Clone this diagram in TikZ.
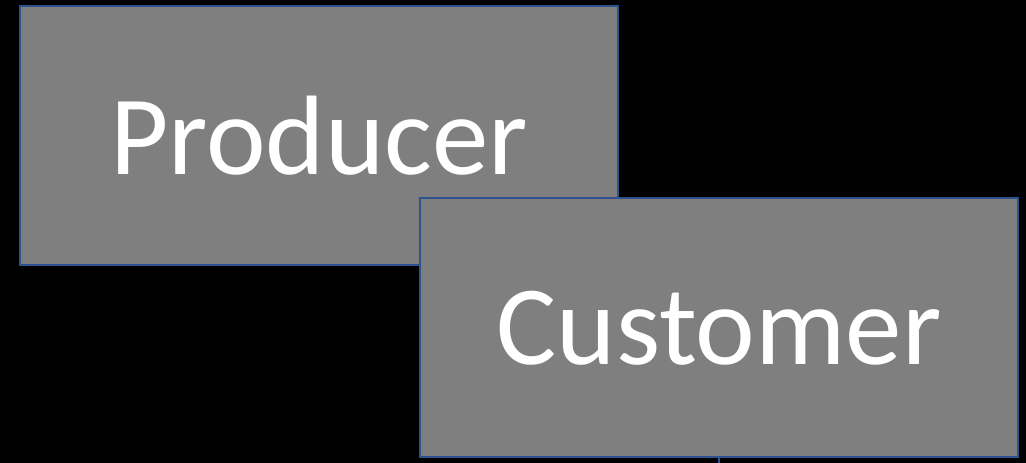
\documentclass[tikz,border=0pt]{standalone}
\usepackage{fontspec}
\setmainfont{Carlito}
\definecolor{boxfill}{HTML}{7F7F7F}
\definecolor{boxline}{HTML}{2F528F}
\begin{document}
\begin{tikzpicture}[x=1pt,y=1pt,
  box/.style={draw=boxline, line width=2pt, fill=boxfill, text=white,
    minimum width=598pt, minimum height=259pt, inner sep=0pt,
    font=\fontsize{113}{120}\selectfont}]
\fill[black] (0,0) rectangle (1026,463);
\useasboundingbox (0,0) rectangle (1026,463);
\node[box] (producer) at (319,327.5) {Producer};
\node[box] (customer) at (719,135) {Customer};
\coordinate (tail) at (719,0);
\draw[boxline, line width=1.5pt] (customer.south) -- (tail);
\end{tikzpicture}
\end{document}
